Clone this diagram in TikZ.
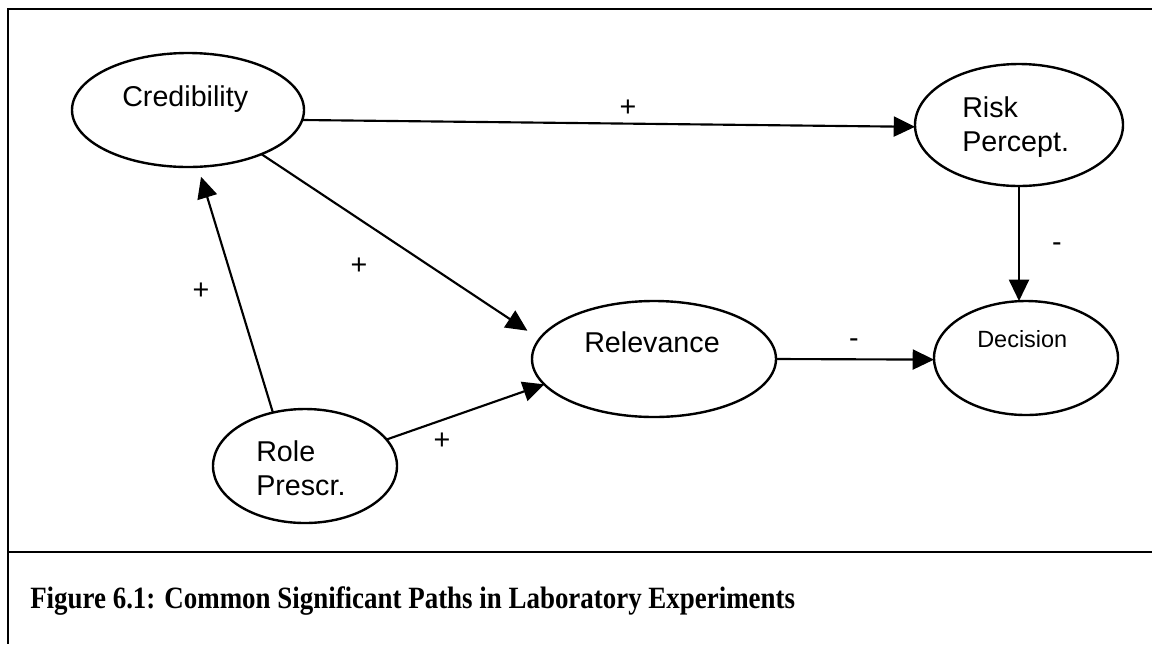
\documentclass[tikz,border=0pt]{standalone}
\usepackage{graphicx}
\usepackage{fontspec}
\setmainfont{Liberation Sans}
\newfontfamily\capfont{Liberation Serif}
\usetikzlibrary{shapes.geometric,arrows.meta}
\begin{document}
\begin{tikzpicture}[x=0.75pt,y=-0.75pt,
  construct/.style={draw, ellipse, line width=1.8pt, inner sep=0pt, outer sep=0pt},
  link/.style={line width=1.6pt, -{Triangle[length=16pt,width=15pt]}},
  vartext/.style={font=\fontsize{21.5}{25.5}\selectfont, inner sep=0pt, anchor=base west, align=left},
  sign/.style={font=\fontsize{21.5}{25.5}\selectfont, inner sep=0pt, anchor=base}
]
\useasboundingbox (0,0) rectangle (1152,644);

% frame and caption separator
\draw[line width=1.8pt] (1152,9) -- (8,9) -- (8,644);
\draw[line width=1.8pt] (8,552) -- (1152,552);

% constructs
\node[construct, minimum width=174pt, minimum height=85.5pt] (cred) at (188,110) {};
\node[construct, minimum width=156pt, minimum height=91.5pt] (risk) at (1019,125) {};
\node[construct, minimum width=183pt, minimum height=87pt] (rel) at (654,359) {};
\node[construct, minimum width=138pt, minimum height=85.5pt] (dec) at (1026,358) {};
\node[construct, minimum width=138pt, minimum height=85.5pt] (role) at (305,466) {};

% construct names (base anchor of a two-line name sits on its last line)
\node[vartext] (credT) at (122,106) {Credibility};
\node[vartext] (riskT) at (962,151) {Risk\\Percept.};
\node[vartext] (relT) at (584,352) {Relevance};
\node[vartext, font=\fontsize{17.6}{21}\selectfont] (decT) at (977,347) {Decision};
\node[vartext] (roleT) at (256,495) {Role\\Prescr.};

% significant paths
\draw[link] (cred.-5.5) -- (risk.181.7);
\draw[link, shorten >=11pt] (cred.-31) -- (rel.170.2);
\draw[link, shorten >=7.8pt] (role.121.9) -- (cred.-80.6);
\draw[link] (role.18.9) -- (rel.193.7);
\draw[link] (rel.-0.9) -- (dec.181.9);
\draw[link] (risk.south) -- (risk.south |- dec.north);

% path signs
\node[sign] (s1) at (628,116) {+};
\node[sign] (s2) at (359,274) {+};
\node[sign] (s3) at (201,299) {+};
\node[sign] (s4) at (442,449) {+};
\node[sign] (s5) at (854,347) {-};
\node[sign] (s6) at (1057,251) {-};

% caption
\node[anchor=base west, inner sep=0pt, font=\capfont\bfseries\fontsize{20.2}{24}\selectfont] (cap) at (30,608)
  {\scalebox{1}[1.15]{Figure 6.1: Common Significant Paths in Laboratory Experiments}};
\end{tikzpicture}
\end{document}
